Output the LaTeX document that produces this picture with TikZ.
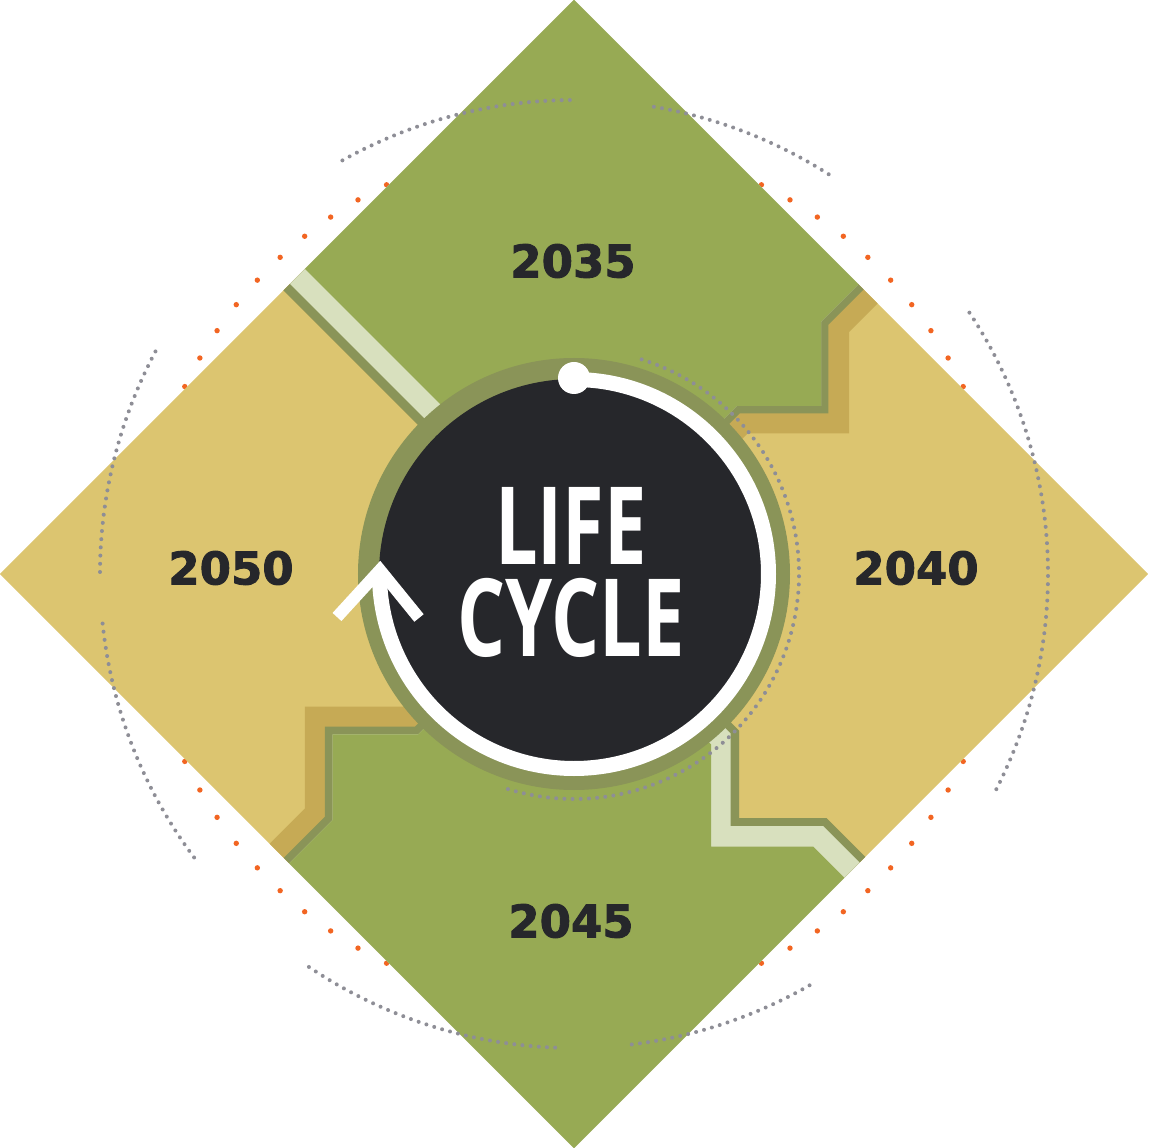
\documentclass[tikz,border=0pt]{standalone}
\usepackage{fontspec}
\newfontfamily\yearfont{DejaVu Sans}[BoldFeatures={FakeBold=2}]
\newfontfamily\titlefont{Open Sans}
\definecolor{leafgreen}{RGB}{151,170,84}
\definecolor{sand}{RGB}{220,197,112}
\definecolor{darksand}{RGB}{198,170,85}
\definecolor{ringolive}{RGB}{138,148,88}
\definecolor{palegreen}{RGB}{216,224,190}
\definecolor{hubdark}{RGB}{38,39,43}
\definecolor{dotgray}{RGB}{142,142,150}
\definecolor{dotorange}{RGB}{242,101,34}

\begin{document}
\begin{tikzpicture}[x=1pt, y=1pt,
    year/.style={font=\yearfont\bfseries\fontsize{45}{45}\selectfont, text=hubdark, inner sep=0pt},
    hubtext/.style={font=\titlefont\bfseries\fontsize{108}{92}\selectfont, text=white, inner sep=0pt, xscale=0.7, align=center},
    graydots/.style={dotgray, line width=4pt, line cap=round, dash pattern=on 0pt off 8.2pt},
    orangedot/.style={fill=dotorange}
]
    \useasboundingbox (-574,-574) rectangle (574,574);

    % Orange dots behind the diamond
    \foreach \k in {0,...,83}
        \fill[orangedot] ({\k*30/7}:432) circle[radius=2.7pt];

    % Diamond
    \begin{scope}
        \clip (0,574) -- (574,0) -- (0,-574) -- (-574,0) -- cycle;
        \fill[sand] (-574,-574) rectangle (574,574);
        % top quarter
        \fill[darksand] (-400,393) -- (-400,800) -- (400,800) -- (375,342) -- (275,242) -- (275,140.7) -- (173.7,140.7) -- (53.7,20.7) -- (0,-7) -- cycle;
        \fill[ringolive] (-400,393) -- (-400,800) -- (400,800) -- (354.3,349.3) -- (254.3,249.3) -- (254.3,160.7) -- (165.7,160.7) -- (45.7,40.7) -- (0,-7) -- cycle;
        \fill[palegreen] (-400,406) -- (-400,800) -- (400,800) -- (347,352.3) -- (247,252.3) -- (247,168) -- (162.7,168) -- (42.7,48) -- (0,6) -- cycle;
        \fill[leafgreen] (-400,436) -- (-400,800) -- (400,800) -- (347,352.3) -- (247,252.3) -- (247,168) -- (162.7,168) -- (42.7,48) -- (0,36) -- cycle;
        % bottom quarter
        \fill[darksand] (-369,-334.3) -- (-269,-234.3) -- (-269,-132.7) -- (-167.4,-132.7) -- (-47.4,-12.7) -- (45,-36.7) -- (165,-156.7) -- (165,-244) -- (252.3,-244) -- (352.3,-344) -- (400,-800) -- (-400,-800) -- cycle;
        \fill[ringolive] (-349,-342.7) -- (-249,-242.7) -- (-249,-152.7) -- (-159,-152.7) -- (-39,-32.7) -- (45,-36.7) -- (165,-156.7) -- (165,-244) -- (252.3,-244) -- (352.3,-344) -- (400,-800) -- (-400,-800) -- cycle;
        \fill[palegreen] (-341.3,-346) -- (-241.3,-246) -- (-241.3,-160.3) -- (-155.6,-160.3) -- (-35.6,-40.3) -- (36.7,-39.7) -- (156.7,-159.7) -- (156.7,-252) -- (249,-252) -- (349,-352) -- (400,-800) -- (-400,-800) -- cycle;
        \fill[leafgreen] (-341.3,-346) -- (-241.3,-246) -- (-241.3,-160.3) -- (-155.6,-160.3) -- (-35.6,-40.3) -- (17,-50.4) -- (137,-170.4) -- (137,-272.7) -- (239.3,-272.7) -- (339.3,-372.7) -- (400,-800) -- (-400,-800) -- cycle;
    \end{scope}

    % Gray dotted arcs
    \foreach \a/\b in {57.5/81, 90.5/120, 152/180, 186/217, 236/268, 277/300, -27/34}
        \draw[graydots] (\a:474) arc[start angle=\a, end angle=\b, radius=474];
    \draw[graydots] (72.5:225) arc[start angle=72.5, end angle=-108.3, radius=225];

    % Hub
    \fill[ringolive] (0,0) circle[radius=216];
    \fill[hubdark] (0,0) circle[radius=195];
    \draw[white, line width=15pt] (90:194.5) arc[start angle=90, end angle=-181, radius=194.5];
    \fill[white] (90:196) circle[radius=16];
    \draw[white, line width=12pt] (-237,-43) -- (-194,4) -- (-155,-44);

    % Labels
    \node[year] (y2035) at (-1,313) {2035};
    \node[year] (y2040) at (342,6) {2040};
    \node[year] (y2045) at (-3,-347) {2045};
    \node[year] (y2050) at (-343,6) {2050};
    \node[hubtext] (hub) at (-3,2) {LIFE\\CYCLE};
\end{tikzpicture}
\end{document}
